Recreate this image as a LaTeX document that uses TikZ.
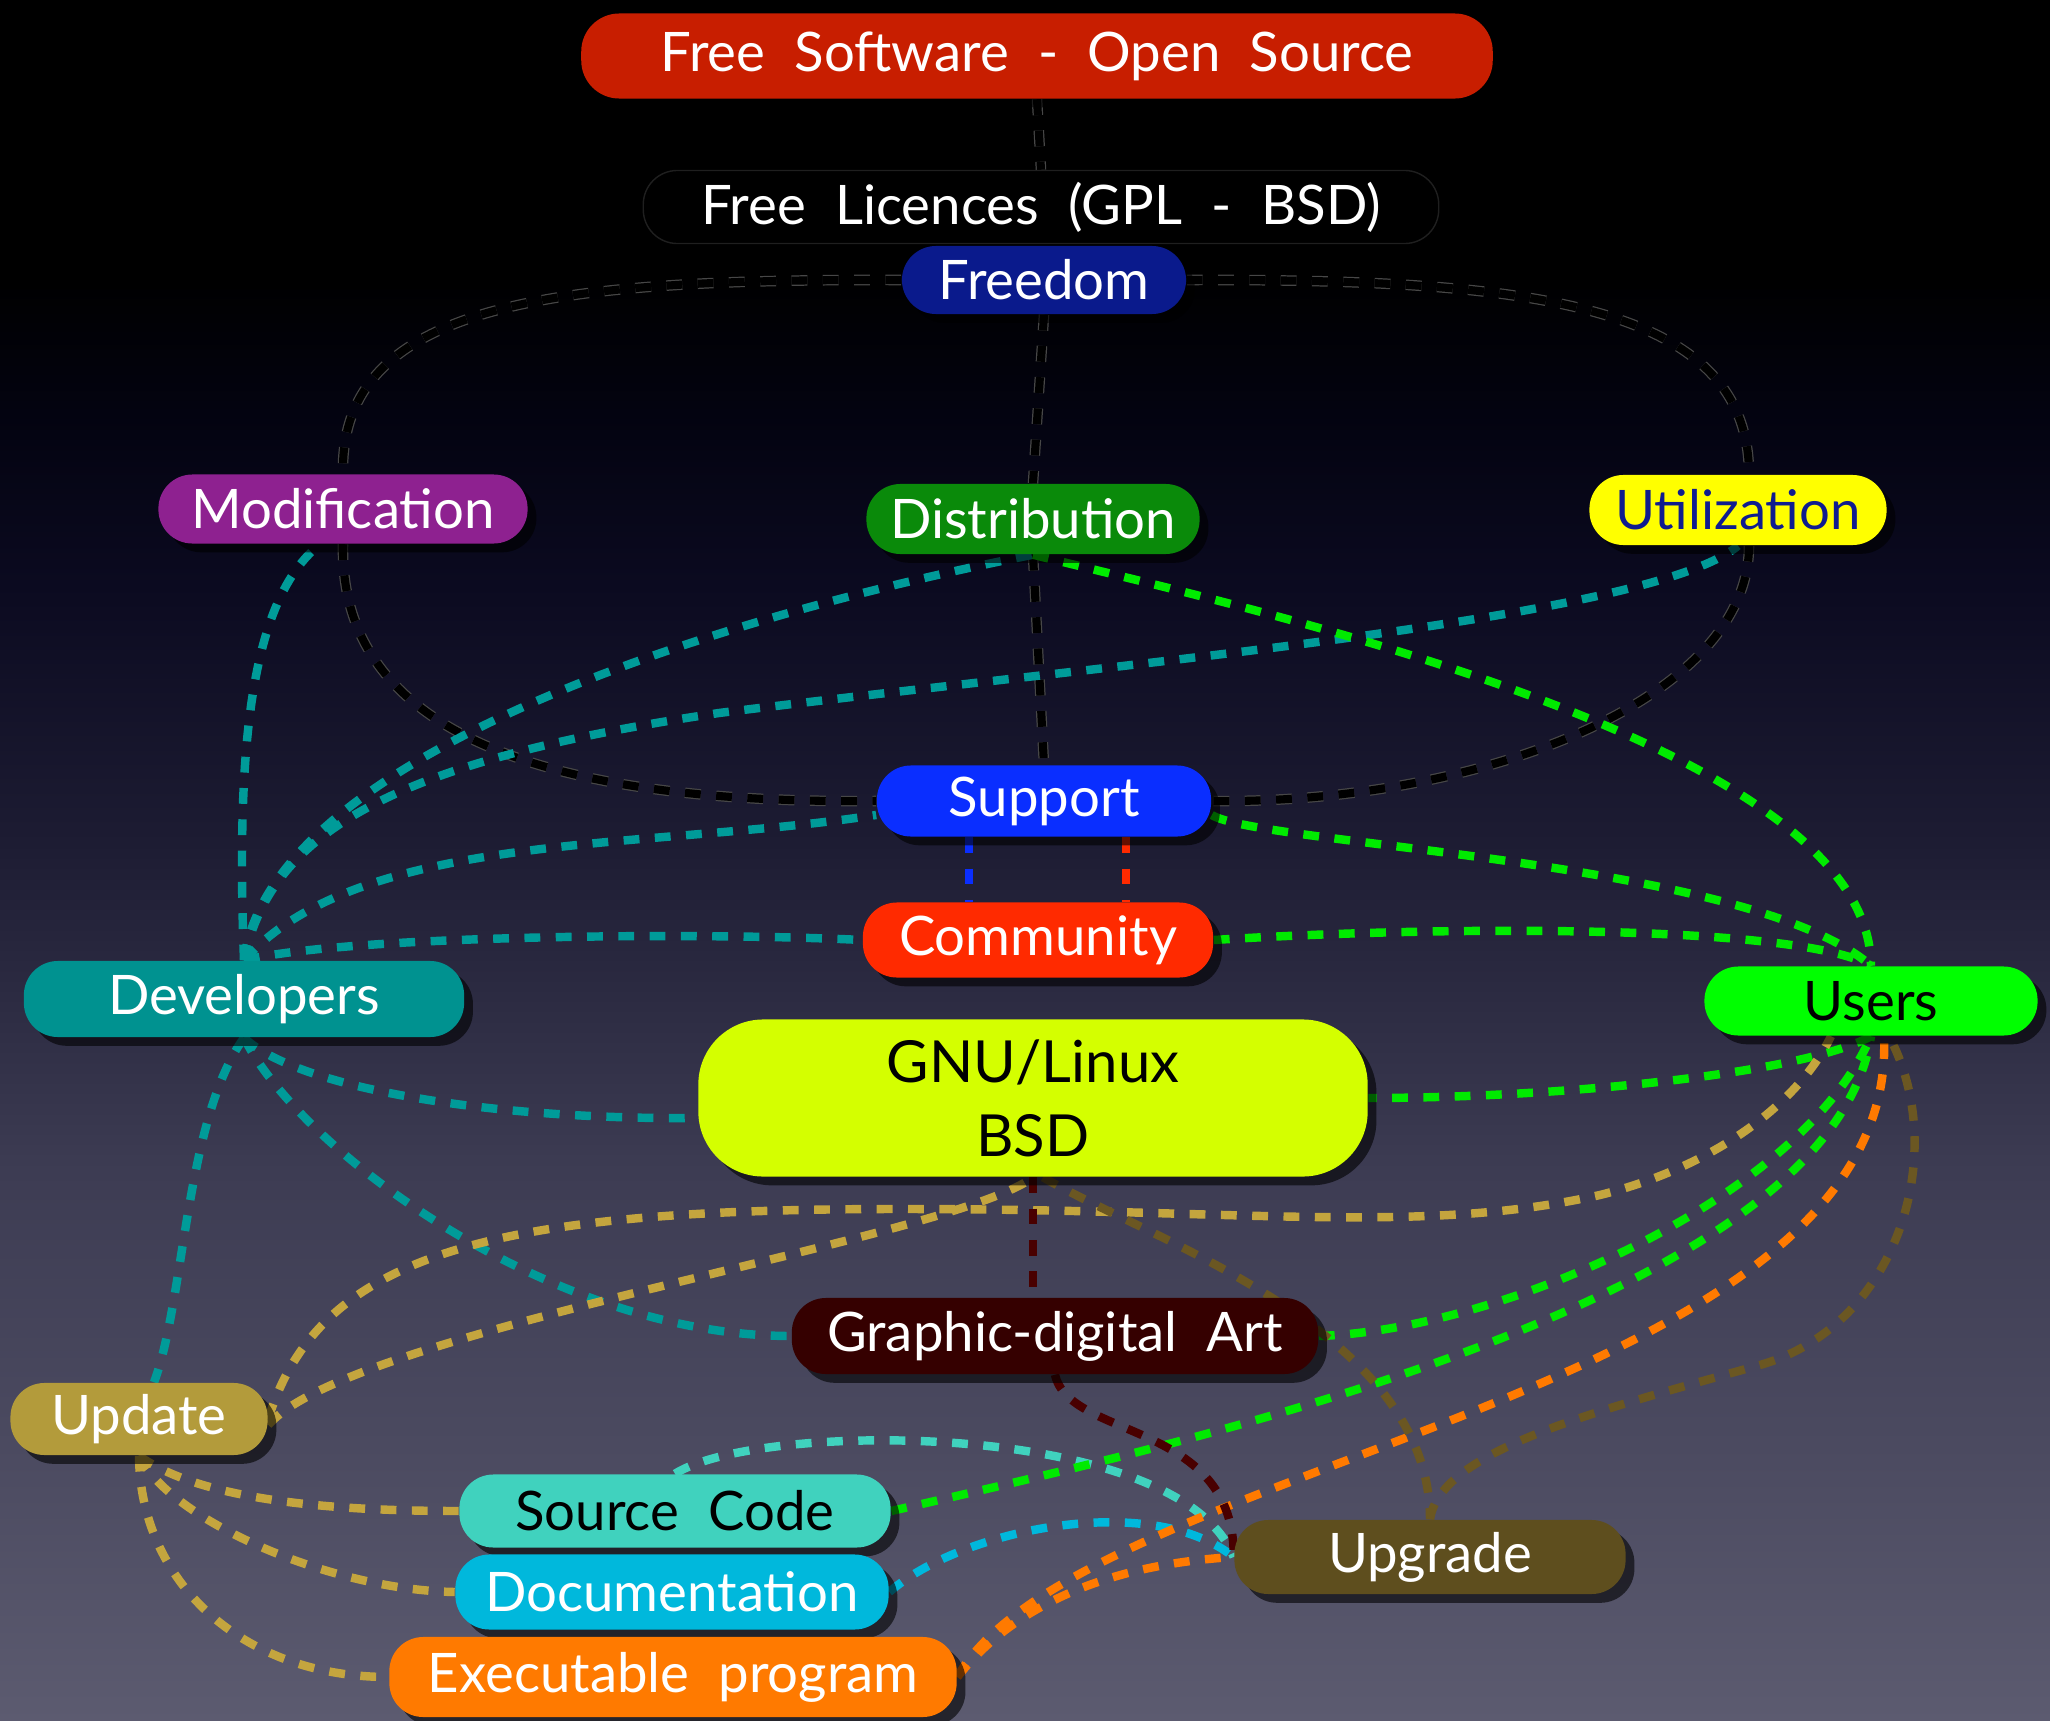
\documentclass[tikz,border=0pt]{standalone}
\usepackage{fontspec}
\setmainfont{Lato}[WordSpace=2.1]
\usepackage{tikz}
\usetikzlibrary{calc,shadows}

\definecolor{bgA}{HTML}{5C5B70}
\definecolor{bgB}{HTML}{4B4A60}
\definecolor{bgC}{HTML}{3D3C53}
\definecolor{bgD}{HTML}{1D1C33}
\definecolor{bgE}{HTML}{0B0A20}
\definecolor{bgF}{HTML}{030310}
\definecolor{fsosred}{HTML}{C81E00}
\definecolor{freeblue}{HTML}{0A1A8C}
\definecolor{modpurple}{HTML}{8E2190}
\definecolor{distgreen}{HTML}{0A8A0A}
\definecolor{utilyellow}{HTML}{FFFF00}
\definecolor{utiltext}{HTML}{0F1C8F}
\definecolor{supblue}{HTML}{0A2EFF}
\definecolor{comred}{HTML}{FF2A00}
\definecolor{devteal}{HTML}{009290}
\definecolor{usergreen}{HTML}{00FF00}
\definecolor{gnulime}{HTML}{D4FF00}
\definecolor{artmaroon}{HTML}{350000}
\definecolor{updgold}{HTML}{B39B3B}
\definecolor{updline}{HTML}{C4A53E}
\definecolor{srcaqua}{HTML}{40D2BE}
\definecolor{doccyan}{HTML}{00B8DC}
\definecolor{execorange}{HTML}{FF7A00}
\definecolor{upgolive}{HTML}{5E4E1E}
\definecolor{upgline}{HTML}{6B5722}

% shading: the picture covers 25bp..75bp of it
\pgfdeclareverticalshading{sky}{100bp}{color(0bp)=(bgA); color(25bp)=(bgA); color(33bp)=(bgB); color(41bp)=(bgC); color(50.5bp)=(bgD); color(58bp)=(bgE); color(63bp)=(bgF); color(67bp)=(black); color(100bp)=(black)}

\pgfdeclarelayer{back}
\pgfdeclarelayer{links}
\pgfsetlayers{back,links,main}

\tikzset{
  box/.style={rectangle, rounded corners=0.34cm, inner sep=0pt, text=white,
    font=\fontsize{15.5}{20}\selectfont,
    drop shadow={shadow xshift=2.5pt, shadow yshift=-2.5pt, opacity=0.6, fill=black}},
  link/.style={line width=2.4pt, dash pattern=on 4.5pt off 4.4pt},
  blk/.style={draw=black!72, double=black, double distance=2.3pt, line width=0.35pt, dash pattern=on 4.5pt off 4.4pt},
  devlink/.style={link, draw=devteal!92!cyan},
  userlink/.style={link, draw=usergreen!92!black},
  updlink/.style={link, draw=updline},
  execlink/.style={link, draw=execorange},
  upglink/.style={link, draw=upgline},
  artlink/.style={link, draw=artmaroon!90!red},
  srclink/.style={link, draw=srcaqua},
  doclink/.style={link, draw=doccyan},
}

\begin{document}
\begin{tikzpicture}[x=0.01cm, y=-0.01cm]
  \useasboundingbox (0,0) rectangle (2050,1721);
  \begin{pgfonlayer}{back}
    \shade[shading=sky] (0,0) rectangle (2050,1721);
  \end{pgfonlayer}

  % boxes
  \node[box, fill=fsosred, minimum width=9.11cm, minimum height=0.85cm, rounded corners=0.38cm] (fsos) at (1037,56) {Free Software - Open Source};
  \node[box, fill=black, draw=black!88!white, thin, minimum width=7.95cm, minimum height=0.73cm] (lic) at (1041,207) {Free Licences (GPL - BSD)};
  \node[box, fill=freeblue, minimum width=2.84cm, minimum height=0.68cm] (freedom) at (1044,280) {Freedom};
  \node[box, fill=modpurple, minimum width=3.69cm, minimum height=0.69cm] (modif) at (343,509) {Modification};
  \node[box, fill=distgreen, minimum width=3.33cm, minimum height=0.70cm] (distrib) at (1033,519) {Distribution};
  \node[box, fill=utilyellow, text=utiltext, minimum width=2.97cm, minimum height=0.70cm] (util) at (1738,510) {Utilization};
  \node[box, fill=supblue, minimum width=3.34cm, minimum height=0.71cm] (support) at (1044,801) {Support};
  \node[box, fill=comred, minimum width=3.50cm, minimum height=0.75cm] (commun) at (1038,940) {Community};
  \node[box, fill=devteal, minimum width=4.40cm, minimum height=0.76cm] (devel) at (244,999) {Developers};
  \node[box, fill=usergreen, text=black, minimum width=3.33cm, minimum height=0.69cm] (users) at (1871,1001) {Users};
  \node[box, fill=gnulime, text=black, align=center, minimum width=6.69cm, minimum height=1.57cm, rounded corners=0.65cm, font=\fontsize{16.5}{21}\selectfont] (gnu) at (1033,1098) {GNU/Linux\\BSD};
  \node[box, fill=artmaroon, minimum width=5.26cm, minimum height=0.76cm] (art) at (1055,1336) {Graphic-digital Art};
  \node[box, fill=updgold, minimum width=2.57cm, minimum height=0.72cm] (update) at (139,1419) {Update};
  \node[box, fill=srcaqua, text=black, minimum width=4.31cm, minimum height=0.73cm] (source) at (675,1511) {Source Code};
  \node[box, fill=doccyan, minimum width=4.33cm, minimum height=0.75cm] (docu) at (672,1592) {Documentation};
  \node[box, fill=execorange, minimum width=5.67cm, minimum height=0.80cm] (exec) at (673,1677) {Executable program};
  \node[box, fill=upgolive, minimum width=3.91cm, minimum height=0.74cm] (upgrade) at (1430,1557) {Upgrade};

  \begin{pgfonlayer}{links}
    % freedom loop
    \draw[blk] (fsos.south) -- (lic.north);
    \draw[blk] (freedom.west) .. controls (560,279) and (339,300) .. (modif.north);
    \draw[blk] (modif.south) .. controls (339,740) and (560,804) .. (support.west);
    \draw[blk] (freedom.east) .. controls (1520,279) and (1749,300) .. ($(util.north)+(11,0)$);
    \draw[blk] ($(util.south)+(11,0)$) .. controls (1749,700) and (1480,804) .. (support.east);
    \draw[blk] (freedom.south) -- (distrib.north);
    \draw[blk] (distrib.south) -- (support.north);

    % developers
    \draw[devlink] (devel.north) .. controls (236,750) and (250,600) .. ($(modif.south)+(-23,0)$);
    \draw[devlink] (devel.north) .. controls (270,760) and (700,620) .. (distrib.south);
    \draw[devlink] (devel.north) .. controls (270,830) and (400,760) .. (719,713)
                                 .. controls (1100,665) and (1650,620) .. (util.south);
    \draw[devlink] (devel.north) .. controls (360,830) and (650,850) .. ($(support.west)+(0,14)$);
    \draw[devlink] (devel.north) .. controls (350,935) and (700,932) .. (commun.west);
    \draw[devlink] (devel.south) .. controls (300,1090) and (500,1120) .. ($(gnu.west)+(0,20)$);
    \draw[devlink] (devel.south) .. controls (300,1150) and (550,1336) .. (art.west);
    \draw[devlink] (devel.south) .. controls (185,1120) and (185,1300) .. ($(update.north)+(15,0)$);

    \draw[srclink] (source.north) .. controls (760,1420) and (1180,1420) .. (upgrade.west);
    \draw[doclink] (docu.east) .. controls (960,1530) and (1150,1490) .. (upgrade.west);

    % users
    \draw[userlink] (distrib.south) .. controls (1300,620) and (1870,750) .. (users.north);
    \draw[userlink] ($(support.east)+(0,14)$) .. controls (1260,845) and (1750,860) .. (users.north);
    \draw[userlink] (commun.east) .. controls (1450,925) and (1800,925) .. (users.north);
    \draw[userlink] (users.south) .. controls (1800,1075) and (1550,1098) .. (gnu.east);
    \draw[userlink] (art.east) .. controls (1500,1330) and (1800,1200) .. (users.south);
    \draw[userlink] (source.east) .. controls (1200,1440) and (1830,1300) .. (users.south);

    \draw[execlink] (exec.east) .. controls (1080,1460) and (1900,1400) .. ($(users.south)+(13,0)$);
    \draw[execlink] (exec.east) .. controls (1010,1610) and (1100,1565) .. (upgrade.west);

    % update
    \draw[updlink] (update.east) .. controls (320,1250) and (500,1209) .. (900,1209)
                   .. controls (1250,1209) and (1420,1235) .. (1600,1195)
                   .. controls (1720,1165) and (1800,1100) .. ($(users.south)+(-40,0)$);
    \draw[updlink] ($(update.east)+(0,6)$) .. controls (350,1330) and (950,1240) .. (gnu.south);
    \foreach \dst/\ax/\ay/\bx/\by in {source/200/1500/330/1511, docu/170/1520/330/1590, exec/140/1580/240/1677}
      \draw[updlink] (update.south) .. controls (\ax,\ay) and (\bx,\by) .. (\dst.west);

    % upgrade
    \draw[upglink] ($(gnu.south)+(10,0)$) .. controls (1150,1240) and (1430,1330) .. (upgrade.north);
    \draw[upglink] (upgrade.north) .. controls (1440,1450) and (1600,1410) .. (1760,1365)
                   .. controls (1900,1325) and (1950,1150) .. ($(users.south)+(18,0)$);

    \draw[artlink] (gnu.south) -- (gnu.south |- art.north);
    \draw[artlink] (art.south) .. controls (1070,1440) and (1235,1420) .. (upgrade.west);

    \draw[link, supblue] ($(support.south)+(-75,0)$) -- ($(commun.north)+(-69,0)$);
    \draw[link, comred] ($(support.south)+(82,0)$) -- ($(commun.north)+(88,0)$);
  \end{pgfonlayer}
\end{tikzpicture}
\end{document}
